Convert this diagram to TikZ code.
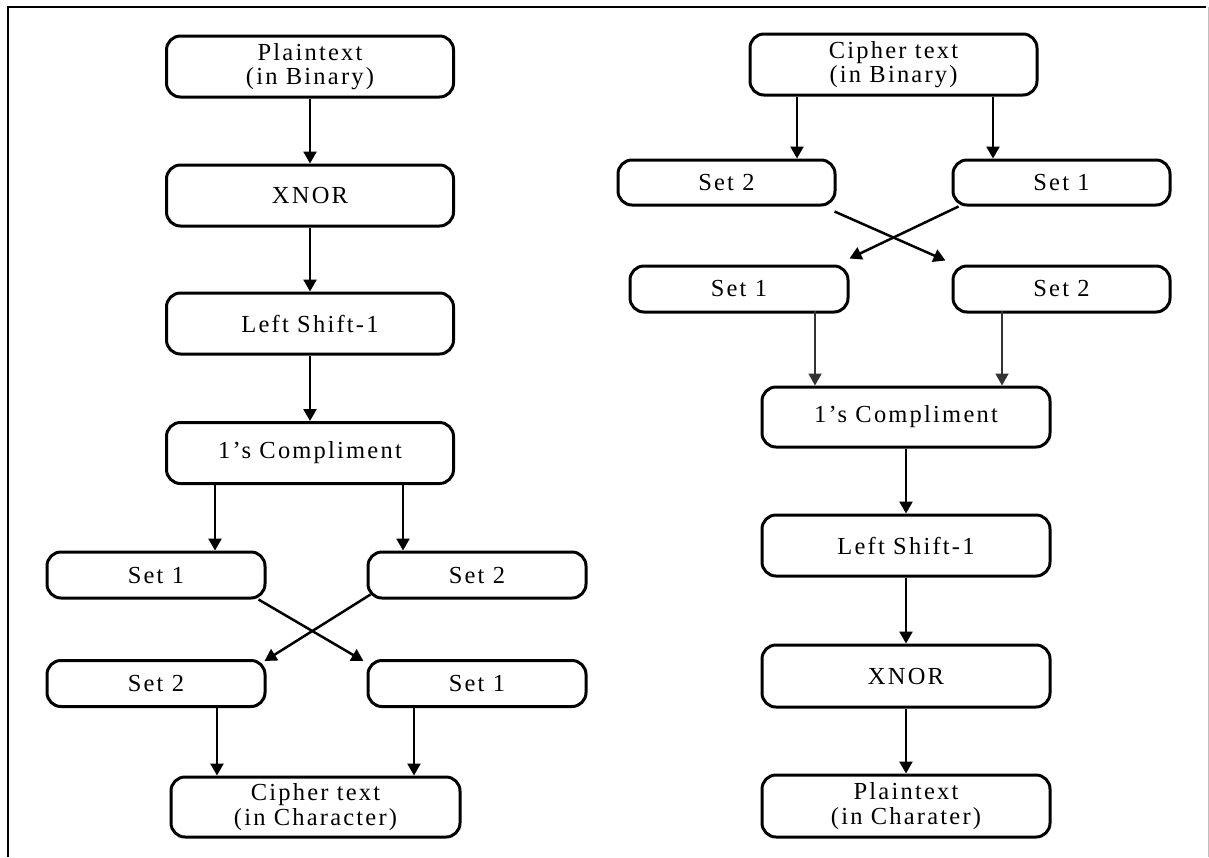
\documentclass[tikz,border=0pt]{standalone}
\usepackage{fontspec}
\setmainfont{Liberation Serif}[LetterSpace=9]
\usetikzlibrary{arrows.meta}
\begin{document}
\begin{tikzpicture}[x=1pt,y=-1pt,
  font=\fontsize{24.5}{24.5}\selectfont,
  box/.style={draw, line width=3pt, rounded corners=14pt, align=center, inner sep=0pt},
  wide/.style={box, minimum width=287pt, minimum height=61pt},
  setbox/.style={box, minimum width=218pt, minimum height=46pt},
  arr/.style={line width=2.5pt, -{Triangle[width=13pt,length=12pt]}},
  thinarr/.style={line width=1.8pt, draw=black!80, -{Triangle[width=13pt,length=12pt]}}]
\useasboundingbox (0,0) rectangle (1209,857);

% page frame
\draw[line width=2.4pt] (8,857) -- (8,7) -- (1206,7);
\draw[line width=1pt, black!25] (1208,7) -- (1208,857);

% ---- encryption ----
\node[wide] (lpt) at (310,66.5) {Plaintext\\(in Binary)};
\node[wide] (lx)  at (310,195.5) {XNOR};
\node[wide] (lls) at (310,323.5) {Left Shift-1};
\node[wide] (lc)  at (310,453) {1's Compliment};
\node[setbox] (ls1)  at (156,575) {Set 1};
\node[setbox] (ls2)  at (477,575) {Set 2};
\node[setbox] (ls2b) at (156,683.5) {Set 2};
\node[setbox] (ls1b) at (477,683.5) {Set 1};
\node[wide, minimum width=289pt, minimum height=60pt] (lct) at (315.5,807) {Cipher text\\(in Character)};

\draw[arr] (lpt.south) -- (lx.north);
\draw[arr] (lx.south) -- (lls.north);
\draw[arr] (lls.south) -- (lc.north);
\draw[arr] ([xshift=-95pt]lc.south) -- ([xshift=59pt]ls1.north);
\draw[arr] ([xshift=93pt]lc.south) -- ([xshift=-74pt]ls2.north);
\draw[arr] ([xshift=-8pt]ls1.south east) -- ([shift={(-3pt,-2pt)}]ls1b.north west);
\draw[arr] ([shift={(4pt,5pt)}]ls2.south west) -- ([shift={(-2pt,-2pt)}]ls2b.north east);
\draw[arr] ([xshift=61pt]ls2b.south) -- ([xshift=-98.5pt]lct.north);
\draw[arr] ([xshift=-63pt]ls1b.south) -- ([xshift=98.5pt]lct.north);

% ---- decryption ----
\node[wide] (rct) at (893.5,64.5) {Cipher text\\(in Binary)};
\node[setbox, minimum width=217pt, minimum height=45pt] (rs2) at (726.5,182.5) {Set 2};
\node[setbox, minimum width=217pt, minimum height=45pt] (rs1) at (1061.5,182.5) {Set 1};
\node[setbox] (rs1b) at (739,289) {Set 1};
\node[setbox, minimum width=217pt] (rs2b) at (1061.5,289) {Set 2};
\node[wide, minimum width=288pt, minimum height=60pt] (rc) at (906,417) {1's Compliment};
\node[wide, minimum width=288pt] (rls) at (906,545.5) {Left Shift-1};
\node[wide, minimum width=288pt, minimum height=62pt] (rx) at (906,676) {XNOR};
\node[wide, minimum width=288pt, minimum height=62pt] (rpt) at (906,806) {Plaintext\\(in Charater)};

\draw[arr] ([xshift=-96.5pt]rct.south) -- ([xshift=70.5pt]rs2.north);
\draw[arr] ([xshift=99.5pt]rct.south) -- ([xshift=-68.5pt]rs1.north);
\draw[arr] ([shift={(-2pt,-5pt)}]rs2.south east) -- ([shift={(-6pt,4pt)}]rs2b.north west);
\draw[arr] ([shift={(7pt,0pt)}]rs1.south west) -- ([shift={(0pt,6pt)}]rs1b.north east);
\draw[thinarr] ([shift={(76pt,3pt)}]rs1b.south) -- ([xshift=-91pt]rc.north);
\draw[thinarr] ([shift={(-59.5pt,3pt)}]rs2b.south) -- ([xshift=96pt]rc.north);
\draw[arr] (rc.south) -- (rls.north);
\draw[arr] (rls.south) -- (rx.north);
\draw[arr] (rx.south) -- (rpt.north);
\end{tikzpicture}
\end{document}
